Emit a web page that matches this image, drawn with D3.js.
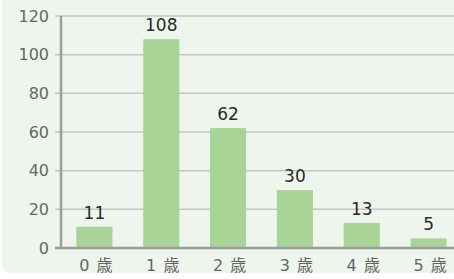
<!DOCTYPE html>
<html lang="ja">
<head>
  <meta charset="UTF-8">
  <title>年齢別</title>
  <script src="https://d3js.org/d3.v7.min.js"></script>
  <style>
    body { margin: 0; background: #fff; }
    svg { display: block; }
    text { font-family: "DejaVu Sans", "Noto Sans CJK JP", sans-serif; }
  </style>
</head>
<body>
<div id="chart"></div>
<script>
  // data
  const ages = ["0 歳", "1 歳", "2 歳", "3 歳", "4 歳", "5 歳"];
  const counts = [11, 108, 62, 30, 13, 5];
  const yTicks = [0, 20, 40, 60, 80, 100, 120];

  const width = 454, height = 279;
  const marginLeft = 61, plotBottom = 248, plotTop = 16;

  const svg = d3.select("#chart").append("svg")
    .attr("width", width)
    .attr("height", height);

  // panel background
  svg.append("rect")
    .attr("x", 2).attr("y", -12)
    .attr("width", width + 10).attr("height", 285)
    .attr("rx", 9)
    .attr("fill", "#eef5ec");

  const x = d3.scaleBand()
    .domain(ages)
    .range([marginLeft, 462])
    .paddingInner(0.46)
    .paddingOuter(0.23);

  const y = d3.scaleLinear()
    .domain([0, 120])
    .range([plotBottom, plotTop]);

  // gridlines
  svg.selectAll(".grid")
    .data(yTicks.filter(d => d > 0))
    .join("line")
    .attr("x1", marginLeft - 6).attr("x2", width)
    .attr("y1", d => y(d)).attr("y2", d => y(d))
    .attr("stroke", "#c4c7c2")
    .attr("stroke-width", 1.5);

  // y tick labels
  svg.selectAll(".ylab")
    .data(yTicks)
    .join("text")
    .attr("x", 49)
    .attr("y", d => y(d))
    .attr("dy", "0.36em")
    .attr("text-anchor", "end")
    .attr("font-size", 16)
    .attr("fill", "#666")
    .text(d => d);

  // bars
  svg.selectAll(".bar")
    .data(counts)
    .join("rect")
    .attr("x", (d, i) => x(ages[i]))
    .attr("y", d => y(d))
    .attr("width", x.bandwidth())
    .attr("height", d => plotBottom - y(d))
    .attr("fill", "#a9d497");

  // value labels
  svg.selectAll(".val")
    .data(counts)
    .join("text")
    .attr("x", (d, i) => x(ages[i]) + x.bandwidth() / 2)
    .attr("y", d => y(d) - 8)
    .attr("text-anchor", "middle")
    .attr("font-size", 17)
    .attr("fill", "#2a2a2a")
    .text(d => d);

  // axes lines
  svg.append("line")
    .attr("x1", marginLeft).attr("x2", marginLeft)
    .attr("y1", plotTop).attr("y2", plotBottom + 1)
    .attr("stroke", "#9c9c9c").attr("stroke-width", 2.5);
  svg.append("line")
    .attr("x1", marginLeft - 6).attr("x2", width)
    .attr("y1", plotBottom).attr("y2", plotBottom)
    .attr("stroke", "#9c9c9c").attr("stroke-width", 2.5);

  // x labels
  svg.selectAll(".xlab")
    .data(ages)
    .join("text")
    .attr("x", d => x(d) + x.bandwidth() / 2 + 2)
    .attr("y", 265)
    .attr("dy", "0.36em")
    .attr("text-anchor", "middle")
    .attr("font-size", 16)
    .attr("letter-spacing", 1)
    .attr("fill", "#666")
    .text(d => d);
</script>
</body>
</html>
